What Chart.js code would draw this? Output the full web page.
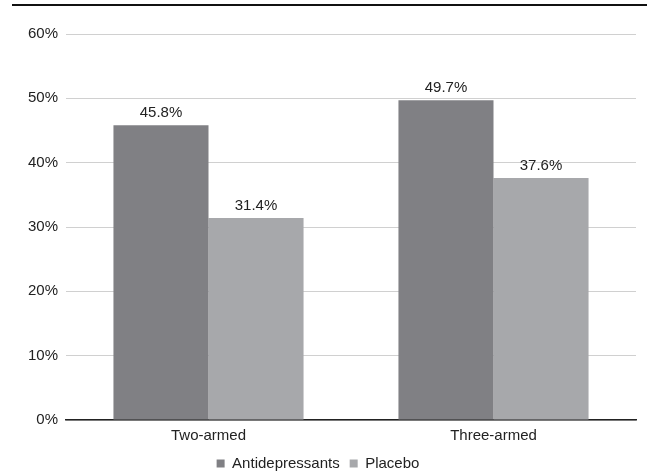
<!DOCTYPE html>
<html>
<head>
<meta charset="utf-8">
<script src="https://cdn.jsdelivr.net/npm/chart.js@4"></script>
<style>
  html, body { margin: 0; padding: 0; background: #fff; }
  #wrap { width: 647px; height: 472px; }
</style>
</head>
<body>
<div id="wrap"><canvas id="trialChart" width="647" height="472"></canvas></div>
<script>
const categories = ["Two-armed", "Three-armed"];
const antidepressants = [45.8, 49.7];
const placebo = [31.4, 37.6];
const yTicks = [0, 10, 20, 30, 40, 50, 60];

Chart.defaults.font.family = "'Liberation Sans', Arial, sans-serif";
Chart.defaults.font.size = 15;
Chart.defaults.color = "#222";

// values printed over each bar
const barLabels = {
  id: "barLabels",
  afterDatasetsDraw(chart) {
    const ctx = chart.ctx;
    ctx.save();
    ctx.font = "15px 'Liberation Sans', Arial, sans-serif";
    ctx.fillStyle = "#222";
    ctx.textAlign = "center";
    ctx.textBaseline = "alphabetic";
    chart.data.datasets.forEach((ds, i) => {
      chart.getDatasetMeta(i).data.forEach((bar, j) => {
        ctx.fillText(ds.data[j].toFixed(1) + "%", bar.x, bar.y - 8);
      });
    });
    ctx.restore();
  }
};

// thick rule across the top
const topRule = {
  id: "topRule",
  beforeDraw(chart) {
    const ctx = chart.ctx;
    ctx.save();
    ctx.strokeStyle = "#111";
    ctx.lineWidth = 2;
    ctx.beginPath();
    ctx.moveTo(12, 5);
    ctx.lineTo(chart.width, 5);
    ctx.stroke();
    ctx.restore();
  }
};

const ctx = document.getElementById("trialChart").getContext("2d");
const chart = new Chart(ctx, {
  type: "bar",
  data: {
    labels: categories,
    datasets: [
      {
        label: "Antidepressants",
        data: antidepressants,
        backgroundColor: "#808084",
        barPercentage: 1,
        categoryPercentage: 0.667
      },
      {
        label: "Placebo",
        data: placebo,
        backgroundColor: "#a7a8ab",
        barPercentage: 1,
        categoryPercentage: 0.667
      }
    ]
  },
  options: {
    responsive: false,
    animation: false,
    layout: { padding: { top: 34, right: 11, left: 0, bottom: -9 } },
    plugins: {
      legend: {
        position: "bottom",
        labels: { boxWidth: 8, boxHeight: 8, padding: 10, color: "#222" }
      },
      tooltip: { enabled: false }
    },
    scales: {
      x: {
        afterFit(scale) { scale.height = 26; },
        grid: { display: false, drawTicks: false },
        border: { color: "#222", width: 1.5 },
        ticks: { padding: 7, color: "#222" }
      },
      y: {
        min: 0,
        max: 60,
        afterFit(scale) { scale.width = 66; },
        afterBuildTicks(scale) { scale.ticks = yTicks.map(v => ({ value: v })); },
        grid: { color: "#d0d0d0", drawTicks: false },
        border: { display: false },
        ticks: { padding: 8, color: "#222", callback: v => v + "%" }
      }
    }
  },
  plugins: [barLabels, topRule]
});
</script>
</body>
</html>
